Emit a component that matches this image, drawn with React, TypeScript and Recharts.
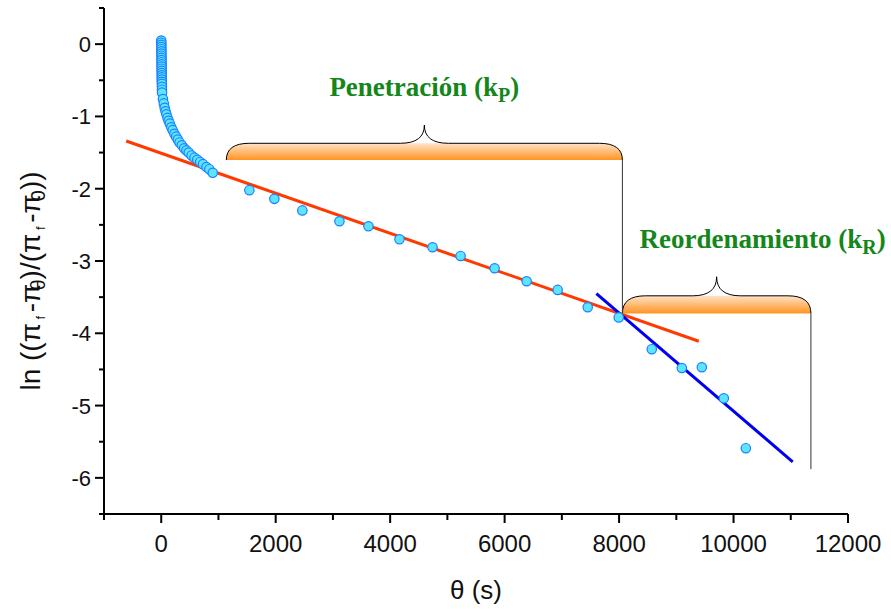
import React from 'react'
import {
  ComposedChart,
  Scatter,
  XAxis,
  YAxis,
  ReferenceLine,
  ReferenceArea,
  Label,
} from 'recharts'

// Measured points: time (s) and ln((πf-πθ)/(πf-π0))
const earlyTimes = [
  0, 1, 2, 2, 3, 3, 4, 4, 5, 5, 6, 6, 7, 7, 8, 8, 9, 9, 10, 10, 11, 12, 13, 14,
  30, 45, 60, 75, 90, 110, 130, 150, 175, 200, 230, 260, 290, 320, 360, 400, 440,
  480, 530, 580, 630, 680, 730, 790, 840, 900,
]
const earlyValues = [
  0.05, 0.02, -0.01, -0.04, -0.07, -0.1, -0.13, -0.16, -0.19, -0.22, -0.25, -0.28,
  -0.31, -0.34, -0.37, -0.4, -0.43, -0.46, -0.49, -0.52, -0.55, -0.59, -0.63, -0.67,
  -0.76, -0.82, -0.88, -0.93, -0.97, -1.02, -1.06, -1.1, -1.15, -1.19, -1.24, -1.28,
  -1.32, -1.36, -1.4, -1.44, -1.47, -1.5, -1.54, -1.57, -1.6, -1.63, -1.66, -1.7,
  -1.73, -1.78,
]
const lateTimes = [
  1540, 1977, 2466, 3114, 3621, 4163, 4740, 5230, 5825, 6385, 6927, 7452, 7994,
  8571, 9096, 9446, 9830, 10215,
]
const lateValues = [
  -2.02, -2.14, -2.3, -2.45, -2.52, -2.7, -2.81, -2.93, -3.1, -3.28, -3.4, -3.64,
  -3.78, -4.22, -4.48, -4.47, -4.9, -5.59,
]

// Linear fits (endpoints)
const penetrationFitX = [-612, 9393]
const penetrationFitY = [-1.34, -4.11]
const reorderFitX = [7604, 11034]
const reorderFitY = [-3.45, -5.78]

// Brace annotations
const braceNames = ['Penetración', 'Reordenamiento']
const braceSubs = ['P', 'R']
const braceStart = [1137, 8058]
const braceEnd = [8058, 11352]
const braceBase = [-1.604, -3.725]
const bracePeak = [-1.12, -3.218]
const guideX = [8058, 11352]
const guideTop = [-1.604, -3.725]
const guideBottom = [-3.725, -5.88]

const xTicks = [-1000, 0, 1000, 2000, 3000, 4000, 5000, 6000, 7000, 8000, 9000, 10000, 11000, 12000]
const yTicks = [-6.5, -6, -5.5, -5, -4.5, -4, -3.5, -3, -2.5, -2, -1.5, -1, -0.5, 0, 0.5]

const points = [...earlyTimes, ...lateTimes].map((x, i) => ({
  x,
  y: i < earlyTimes.length ? earlyValues[i] : lateValues[i - earlyTimes.length],
}))

const TICK_FONT = '"Liberation Sans", Arial, sans-serif'
const GREEN = '#14861a'

function XTick({ x, y, payload }: any) {
  const v = payload.value as number
  const major = v >= 0 && v % 2000 === 0
  return (
    <g>
      <line x1={x} x2={x} y1={y} y2={y + (major ? 9 : 6)} stroke="#000" strokeWidth={2} />
      {major && (
        <text x={x} y={y + 38} textAnchor="middle" fontSize={24} fontFamily={TICK_FONT} fill="#111">
          {v}
        </text>
      )}
    </g>
  )
}

function YTick({ x, y, payload }: any) {
  const v = payload.value as number
  const major = Number.isInteger(v)
  return (
    <g>
      <line x1={x - (major ? 9 : 5)} x2={x} y1={y} y2={y} stroke="#000" strokeWidth={2} />
      {major && (
        <text x={x - 13} y={y + 8} textAnchor="end" fontSize={22} fontFamily={TICK_FONT} fill="#111">
          {v}
        </text>
      )}
    </g>
  )
}

function makeBrace(i: number, textDx: number) {
  return (props: any) => {
    const { x, y, width: w, height: h } = props
    const yb = y + h
    const ym = y + h * 0.52
    const r = 23
    const r2 = 24
    const cx = x + w / 2
    const outline = `M${x},${yb} Q${x},${ym} ${x + r},${ym} L${cx - r2},${ym} Q${cx},${ym} ${cx},${y} Q${cx},${ym} ${cx + r2},${ym} L${x + w - r},${ym} Q${x + w},${ym} ${x + w},${yb}`
    const fill = `M${x},${yb} Q${x},${ym} ${x + r},${ym} L${x + w - r},${ym} Q${x + w},${ym} ${x + w},${yb} Z`
    return (
      <g>
        <path d={fill} fill="url(#braceFill)" stroke="none" />
        <path d={outline} fill="none" stroke="#000" strokeWidth={1} />
        <text
          x={cx + textDx}
          y={y - 29}
          textAnchor="middle"
          fontSize={27}
          fontWeight="bold"
          fontFamily='"Liberation Serif", "Times New Roman", serif'
          fill={GREEN}
        >
          {braceNames[i]} (k
          <tspan fontSize={20} dy={6}>{braceSubs[i]}</tspan>
          <tspan dy={-6}>)</tspan>
        </text>
      </g>
    )
  }
}

function YAxisTitle() {
  return (
    <text
      transform="translate(40,281) rotate(-90)"
      textAnchor="middle"
      fontSize={28}
      fontFamily={TICK_FONT}
      fill="#111"
    >
      ln  ((π
      <tspan fontSize={13} dy={5}> f </tspan>
      <tspan dy={-5}>-π</tspan>
      <tspan fontSize={20} dx={-7} dy={5}>θ</tspan>
      <tspan dy={-5}>)/(π</tspan>
      <tspan fontSize={13} dy={5}> f </tspan>
      <tspan dy={-5}>-π</tspan>
      <tspan fontSize={20} dx={-7} dy={5}>0</tspan>
      <tspan dy={-5}>))</tspan>
    </text>
  )
}

function Dot({ cx, cy }: any) {
  return <circle cx={cx} cy={cy} r={4.7} fill="#5ee4ff" stroke="#1a7fff" strokeWidth={1.2} />
}

export default function App() {
  return (
    <div style={{ position: 'absolute', left: 0, top: 0, width: 891, height: 609, background: '#fff' }}>
      <ComposedChart width={891} height={609} margin={{ top: 8, right: 43, bottom: 0, left: 0 }}>
        <defs>
          <linearGradient id="braceFill" x1="0" y1="0" x2="0" y2="1">
            <stop offset="0%" stopColor="#ffe2c8" />
            <stop offset="100%" stopColor="#ff9420" />
          </linearGradient>
        </defs>
        <XAxis
          type="number"
          dataKey="x"
          domain={[-1000, 12000]}
          ticks={xTicks}
          interval={0}
          height={95}
          tickSize={0}
          tickMargin={0}
          tickLine={false}
          tick={<XTick />}
          axisLine={{ stroke: '#000', strokeWidth: 2 }}
        >
          <Label
            value="θ (s)"
            position="insideBottom"
            offset={10}
            fontSize={26}
            fontFamily={TICK_FONT}
            fill="#111"
          />
        </XAxis>
        <YAxis
          type="number"
          dataKey="y"
          domain={[-6.5, 0.5]}
          ticks={yTicks}
          interval={0}
          width={104}
          tickSize={0}
          tickMargin={0}
          tickLine={false}
          tick={<YTick />}
          axisLine={{ stroke: '#000', strokeWidth: 2 }}
        >
          <Label content={<YAxisTitle />} />
        </YAxis>
        <Scatter data={points} dataKey="y" shape={<Dot />} isAnimationActive={false} />
        {braceNames.map((_, i) => (
          <ReferenceArea
            key={`brace-${i}`}
            x1={braceStart[i]}
            x2={braceEnd[i]}
            y1={braceBase[i]}
            y2={bracePeak[i]}
            shape={makeBrace(i, i === 0 ? 0 : 46)}
          />
        ))}
        {guideX.map((gx, i) => (
          <ReferenceLine
            key={`guide-${i}`}
            segment={[
              { x: gx, y: guideTop[i] },
              { x: gx, y: guideBottom[i] },
            ]}
            stroke="#333"
            strokeWidth={1}
          />
        ))}
        <ReferenceLine
          segment={[
            { x: penetrationFitX[0], y: penetrationFitY[0] },
            { x: penetrationFitX[1], y: penetrationFitY[1] },
          ]}
          stroke="#ff3a00"
          strokeWidth={3}
        />
        <ReferenceLine
          segment={[
            { x: reorderFitX[0], y: reorderFitY[0] },
            { x: reorderFitX[1], y: reorderFitY[1] },
          ]}
          stroke="#0000ee"
          strokeWidth={3}
        />
      </ComposedChart>
    </div>
  )
}
